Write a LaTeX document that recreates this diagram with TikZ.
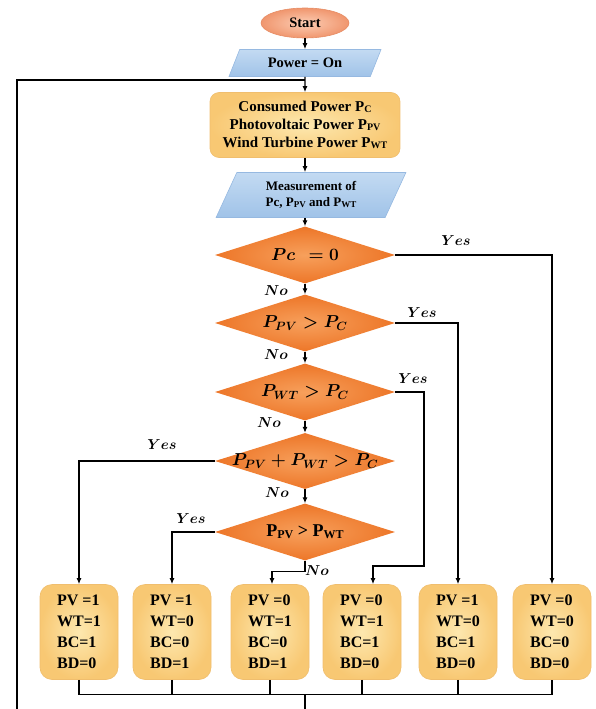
\documentclass[tikz,border=0pt]{standalone}
\usepackage{fontspec}
\setmainfont{Liberation Serif}
\usetikzlibrary{shapes.geometric,arrows.meta}

\newcommand\psub[2]{\raisebox{-0.2ex}{\fontsize{#1}{#1}\selectfont #2}}

\begin{document}
\begin{tikzpicture}[x=1pt,y=-1pt,>={Latex[length=6pt,width=5pt]},
  every node/.style={font=\bfseries},
  terminal/.style={ellipse,draw=startline,line width=0.6pt,inner color=startin,outer color=startout,
    minimum width=88pt,minimum height=30pt,inner sep=0pt,font=\fontsize{14.5}{16}\selectfont\bfseries},
  io/.style={trapezium,trapezium left angle=58,trapezium right angle=122,trapezium stretches=true,
    draw=ioline,line width=0.6pt,top color=iotop,bottom color=iobot,inner sep=0pt,align=center},
  process/.style={rounded corners=9pt,draw=boxline,line width=0.6pt,inner color=boxin,outer color=boxout,align=center},
  decision/.style={diamond,aspect=3,inner sep=0pt,inner color=decin,outer color=decout,
    minimum width=180pt,minimum height=57pt},
  mathtext/.style={font=\fontsize{18}{18}\selectfont\boldmath},
  result/.style={process,align=left,minimum width=78pt,minimum height=95pt,rounded corners=12pt,
    font=\fontsize{16}{21}\selectfont\bfseries},
  answer/.style={font=\fontsize{15}{15}\selectfont\boldmath},
  link/.style={line width=1.2pt}
]

\definecolor{startin}{RGB}{252,205,180}
\definecolor{startout}{RGB}{240,150,110}
\definecolor{startline}{RGB}{230,140,100}
\definecolor{iotop}{RGB}{195,218,242}
\definecolor{iobot}{RGB}{160,195,232}
\definecolor{ioline}{RGB}{150,185,225}
\definecolor{boxin}{RGB}{253,232,175}
\definecolor{boxout}{RGB}{248,200,115}
\definecolor{boxline}{RGB}{240,190,110}
\definecolor{decin}{RGB}{247,160,92}
\definecolor{decout}{RGB}{237,118,40}

\useasboundingbox (0,0) rectangle (595,709);

\node[terminal] (start) at (305,23) {Start};
\node[io,minimum width=153pt,minimum height=27pt,font=\fontsize{14.5}{16}\selectfont\bfseries] (power) at (305,63) {Power = On};
\node[process,minimum width=190pt,minimum height=65pt,font=\fontsize{15}{18}\selectfont\bfseries] (main) at (305,125)
  {Consumed Power P\psub{10}{C}\\Photovoltaic Power P\psub{10}{PV}\\Wind Turbine Power P\psub{10}{WT}};
\node[io,trapezium left angle=65,trapezium right angle=115,minimum width=190pt,minimum height=45pt,
  font=\fontsize{13}{16}\selectfont\bfseries] (meas) at (311,195)
  {Measurement of\\Pc, P\psub{9}{PV} and P\psub{9}{WT}};

\node[decision,label={[mathtext]center:$Pc\ \,= 0$}] (d1) at (305,255) {};
\node[decision,label={[mathtext]center:$P_{PV} > P_C$}] (d2) at (305,323) {};
\node[decision,label={[mathtext]center:$P_{WT} > P_C$}] (d3) at (305,392) {};
\node[decision,minimum height=56pt,label={[mathtext]center:$P_{PV} + P_{WT} > P_C$}] (d4) at (305,461) {};
\node[decision,label={[font=\fontsize{18}{18}\selectfont\bfseries]center:P\psub{12}{PV} > P\psub{12}{WT}}] (d5) at (305,532) {};

\node[result] (b1) at (79,632) {PV =1\\WT=1\\BC=1\\BD=0};
\node[result] (b2) at (172,632) {PV =1\\WT=0\\BC=0\\BD=1};
\node[result] (b3) at (270,632) {PV =0\\WT=1\\BC=0\\BD=1};
\node[result] (b4) at (362,632) {PV =0\\WT=1\\BC=1\\BD=0};
\node[result] (b5) at (458,632) {PV =1\\WT=0\\BC=1\\BD=0};
\node[result] (b6) at (552,632) {PV =0\\WT=0\\BC=0\\BD=0};

\node[answer] (no1) at (276,291) {$No$};
\node[answer] (no2) at (276,355) {$No$};
\node[answer] (no3) at (269,423) {$No$};
\node[answer] (no4) at (277,493) {$No$};
\node[answer] (no5) at (317,571) {$No$};
\node[answer] (yes1) at (456,241) {$Yes$};
\node[answer] (yes2) at (422,313) {$Yes$};
\node[answer] (yes3) at (413,379) {$Yes$};
\node[answer] (yes4) at (162,445) {$Yes$};
\node[answer] (yes5) at (191,519) {$Yes$};

\coordinate (join) at (305,80);
\coordinate (bus) at (305,695);
\coordinate (cutA) at (305,709);
\coordinate (cutB) at (17,709);

% main chain
\draw[link,->] (start) -- (power);
\draw[link,->] (power) -- (main);
\draw[link,->] (main.south) -- (main.south |- meas.north);
\draw[link,->] (main.south |- meas.south) -- (d1.north);
\foreach \a/\b in {d1/d2,d2/d3,d3/d4,d4/d5}
  \draw[link,->] (\a.south) -- (\b.north);

% branches
\draw[link,->] (d1.east) -| (b6.north);
\draw[link,->] (d2.east) -| (b5.north);
\draw[link,->] (d3.east) -| (424,566) -| ([xshift=11pt]b4.north);
\draw[link,->] (d4.west) -| (b1.north);
\draw[link,->] (d5.west) -| (b2.north);
\draw[link,->] (d5.south) -- ++(0,11) -| ([xshift=2pt]b3.north);

% return path
\draw[link] (b1.south) -- ++(0,15) -| (b6.south);
\foreach \b in {b2,b3,b4,b5}
  \draw[link] (\b.south) -- ++(0,15);
\draw[link] (bus) -- (cutA);
\draw[link] (cutB) |- (join);

\end{tikzpicture}
\end{document}
